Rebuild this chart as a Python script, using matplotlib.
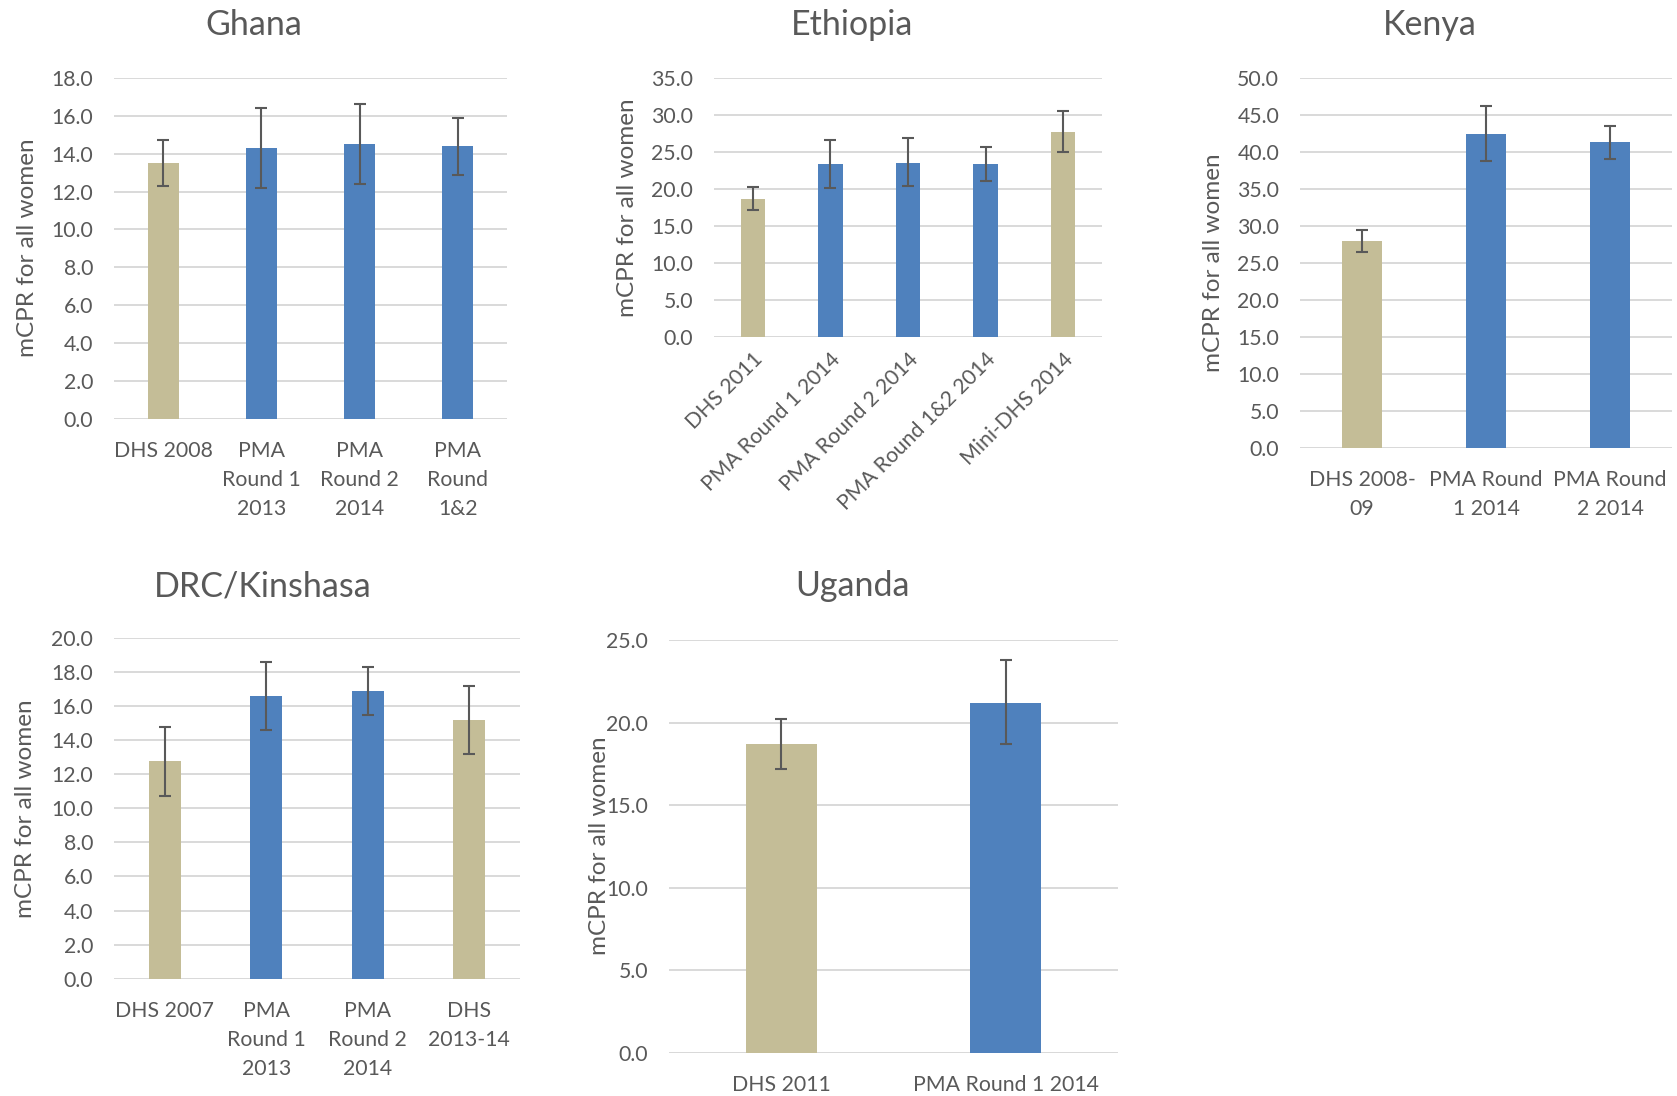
import matplotlib
matplotlib.use("Agg")
import matplotlib.pyplot as plt
import numpy as np

plt.rcParams['font.family'] = ['Lato', 'DejaVu Sans']

# ---- data: mCPR (%) for all women, with confidence bounds ----
ghana_labels = ["DHS 2008", "PMA\nRound 1\n2013", "PMA\nRound 2\n2014", "PMA\nRound\n1&2"]
ghana_source = ["DHS", "PMA", "PMA", "PMA"]
ghana_values = [13.5, 14.3, 14.5, 14.4]
ghana_low = [12.3, 12.2, 12.4, 12.9]
ghana_high = [14.7, 16.4, 16.6, 15.9]

ethiopia_labels = ["DHS 2011", "PMA Round 1 2014", "PMA Round 2 2014",
                   "PMA Round 1&2 2014", "Mini-DHS 2014"]
ethiopia_source = ["DHS", "PMA", "PMA", "PMA", "DHS"]
ethiopia_values = [18.6, 23.3, 23.5, 23.4, 27.7]
ethiopia_low = [17.1, 20.1, 20.3, 21.1, 25.0]
ethiopia_high = [20.2, 26.6, 26.8, 25.7, 30.5]

kenya_labels = ["DHS 2008-\n09", "PMA Round\n1 2014", "PMA Round\n2 2014"]
kenya_source = ["DHS", "PMA", "PMA"]
kenya_values = [27.9, 42.4, 41.3]
kenya_low = [26.5, 38.8, 39.0]
kenya_high = [29.4, 46.2, 43.5]

drc_labels = ["DHS 2007", "PMA\nRound 1\n2013", "PMA\nRound 2\n2014", "DHS\n2013-14"]
drc_source = ["DHS", "PMA", "PMA", "DHS"]
drc_values = [12.8, 16.6, 16.9, 15.2]
drc_low = [10.7, 14.6, 15.5, 13.2]
drc_high = [14.8, 18.6, 18.3, 17.2]

uganda_labels = ["DHS 2011", "PMA Round 1 2014"]
uganda_source = ["DHS", "PMA"]
uganda_values = [18.7, 21.2]
uganda_low = [17.2, 18.7]
uganda_high = [20.2, 23.8]

# ---- styling ----
W, H = 1677, 1096
DPI = 100
COLORS = {"DHS": "#c4bd97", "PMA": "#4f81bd"}
TEXT = "#595959"
GRID = "#d9d9d9"
ERR = "#595959"
TICK_FS = 15.3
YLAB_FS = 17.5
TITLE_FS = 24.5

fig = plt.figure(figsize=(W / DPI, H / DPI), dpi=DPI)
fig.patch.set_facecolor("white")


def px_axes(x0, x1, y_top, y_bot):
    """Create axes from pixel bounds measured from the top-left corner."""
    return fig.add_axes([x0 / W, (H - y_bot) / H, (x1 - x0) / W, (y_bot - y_top) / H])


def panel(box, labels, source, values, low, high, ymax, ystep,
          title, title_xy, ylab_xy, rotate=False):
    ax = px_axes(*box)
    n = len(values)
    x = np.arange(n)
    vals = np.array(values)
    yerr = np.vstack([vals - np.array(low), np.array(high) - vals])
    ax.bar(x, vals, width=0.315, color=[COLORS[s] for s in source], zorder=2)
    ax.errorbar(x, vals, yerr=yerr, fmt="none", ecolor=ERR, elinewidth=1.5,
                capsize=4.2, capthick=1.5, zorder=3)
    ax.set_xlim(-0.5, n - 0.5)
    ax.set_ylim(0, ymax)
    ticks = np.arange(0, ymax + ystep / 2, ystep)
    ax.set_yticks(ticks)
    ax.set_yticklabels([f"{t:.1f}" for t in ticks])
    ax.yaxis.grid(True, color=GRID, linewidth=1.4, zorder=0)
    ax.set_axisbelow(True)
    for s in ax.spines.values():
        s.set_visible(False)
    ax.axhline(0, color=GRID, linewidth=1.8, zorder=1)
    ax.tick_params(axis="both", length=0, labelsize=TICK_FS, colors=TEXT)
    ax.tick_params(axis="y", pad=15)
    ax.set_xticks(x)
    if rotate:
        ax.set_xticklabels(labels, rotation=45, ha="right", va="top",
                           rotation_mode="anchor")
        ax.tick_params(axis="x", pad=9)
    else:
        ax.set_xticklabels(labels, linespacing=1.58)
        ax.tick_params(axis="x", pad=16)
    fig.text(title_xy[0] / W, 1 - title_xy[1] / H, title, ha="center", va="baseline",
             fontsize=TITLE_FS, color=TEXT)
    fig.text(ylab_xy[0] / W, 1 - ylab_xy[1] / H, "mCPR for all women", rotation=90,
             ha="center", va="center", fontsize=YLAB_FS, color=TEXT)
    return ax


panel((114, 507, 78, 418.7), ghana_labels, ghana_source, ghana_values,
      ghana_low, ghana_high, 18, 2, "Ghana", (254, 35), (27, 248))
panel((714, 1102, 77.7, 336.7), ethiopia_labels, ethiopia_source, ethiopia_values,
      ethiopia_low, ethiopia_high, 35, 5, "Ethiopia", (852, 35), (627, 208), rotate=True)
panel((1300, 1672, 78, 447.7), kenya_labels, kenya_source, kenya_values,
      kenya_low, kenya_high, 50, 5, "Kenya", (1430, 35), (1213, 263))
panel((114, 520, 638, 978.7), drc_labels, drc_source, drc_values,
      drc_low, drc_high, 20, 2, "DRC/Kinshasa", (263, 596), (26, 809))
panel((669, 1118, 640, 1052.7), uganda_labels, uganda_source, uganda_values,
      uganda_low, uganda_high, 25, 5, "Uganda", (852, 596), (599, 846))

fig.savefig("out.png", dpi=DPI, facecolor="white")
